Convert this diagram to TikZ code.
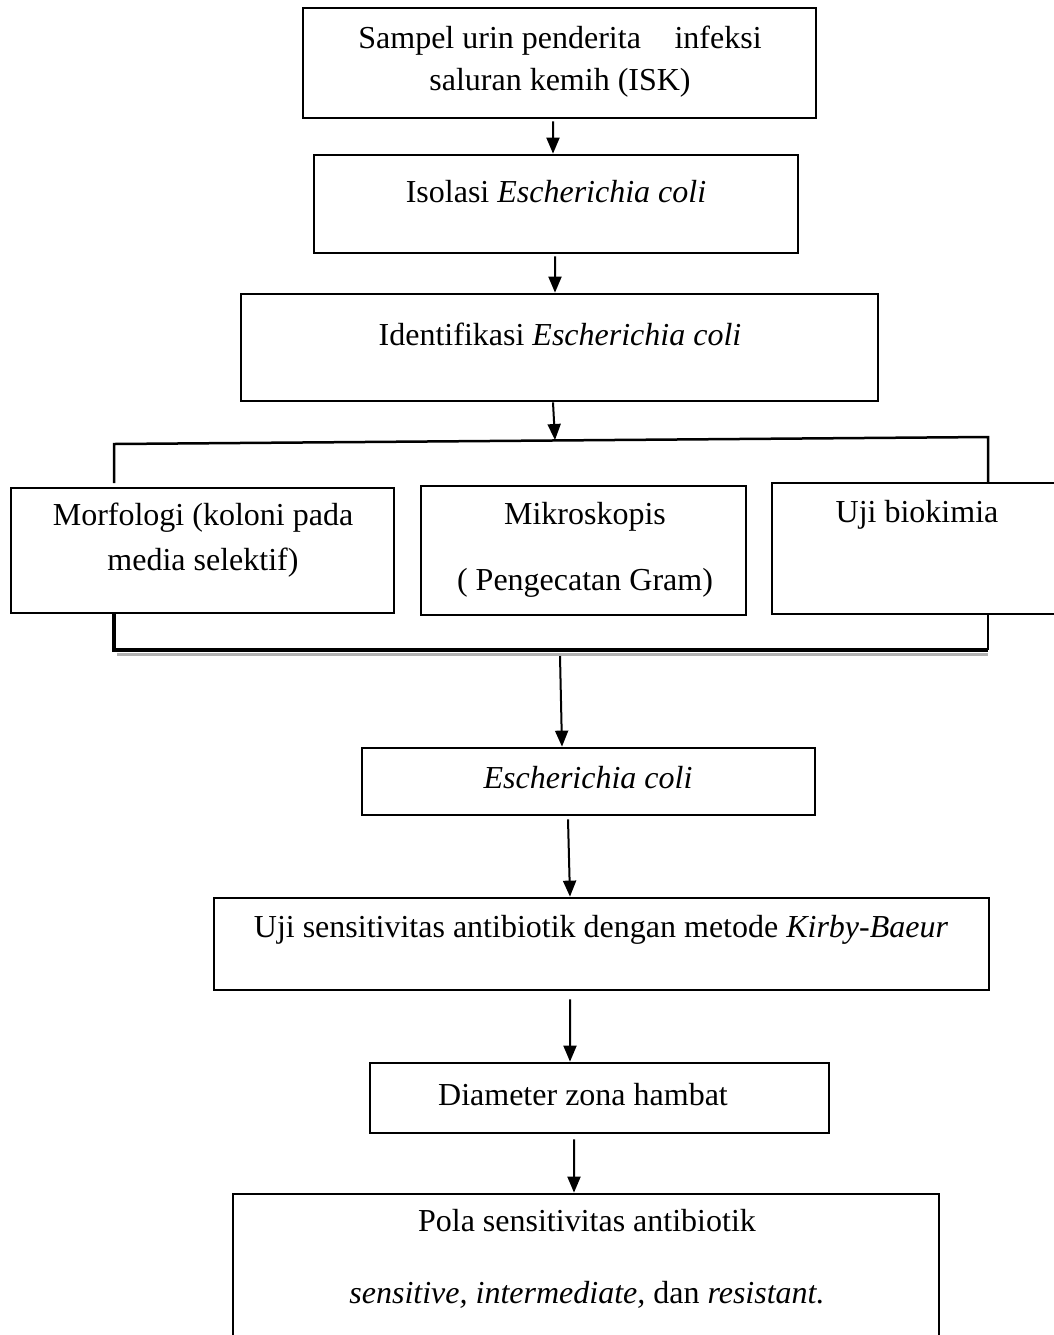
\documentclass[tikz,border=0pt]{standalone}
\usepackage{fontspec}
\setmainfont{Liberation Serif}
\usetikzlibrary{arrows.meta}
\begin{document}
\begin{tikzpicture}[x=0.4pt,y=-0.4pt]
    \tikzset{kotak/.style={draw, line width=1.1pt, inner sep=0pt}}
    \tikzset{teks/.style={align=center, inner sep=0pt, font=\fontsize{12.8pt}{16.8pt}\selectfont}}
    \tikzset{panah/.style={line width=0.8pt, -{Triangle[length=6.4pt,width=5.2pt]}}}
    \tikzset{garis/.style={line width=1pt}}
    \useasboundingbox (0,0) rectangle (1054,1335);
    \clip (0,0) rectangle (1054,1335);
    % kotak
    \node[kotak, minimum width=205.2pt, minimum height=44pt] (sampel) at (559.5,63) {};
    \node[kotak, minimum width=193.6pt, minimum height=39.2pt] (isolasi) at (556,204) {};
    \node[kotak, minimum width=254.8pt, minimum height=42.8pt] (identifikasi) at (559.5,347.5) {};
    \node[kotak, minimum width=153.2pt, minimum height=50pt] (morfologi) at (202.5,550.5) {};
    \node[kotak, minimum width=130pt, minimum height=51.6pt] (mikroskopis) at (583.5,550.5) {};
    \node[kotak, minimum width=116.8pt, minimum height=52.4pt] (biokimia) at (918,548.5) {};
    \node[kotak, minimum width=181.2pt, minimum height=26.8pt] (ecoli) at (588.5,781.5) {};
    \node[kotak, minimum width=310pt, minimum height=36.8pt] (ujisens) at (601.5,944) {};
    \node[kotak, minimum width=183.6pt, minimum height=28pt] (diameter) at (599.5,1098) {};
    \node[kotak, minimum width=282.4pt, minimum height=60.4pt] (pola) at (586,1269.5) {};
    % teks
    \node[teks] (sampel-t) at (560,62) {Sampel urin penderita\hspace{0.8em} infeksi\\saluran kemih (ISK)};
    \node[teks] (isolasi-t) at (556,192) {Isolasi \textit{Escherichia coli}};
    \node[teks] (identifikasi-t) at (560,334) {Identifikasi \textit{Escherichia coli}};
    \node[teks] (morfologi-t) at (203,540) {Morfologi (koloni pada\\[1.2pt]media selektif)};
    \node[teks] (mikroskopis-t) at (585,550) {Mikroskopis\\[9.6pt]( Pengecatan Gram)};
    \node[teks] (biokimia-t) at (917,515) {Uji biokimia};
    \node[teks] (ecoli-t) at (588,778) {\textit{Escherichia coli}};
    \node[teks] (ujisens-t) at (601,930) {Uji sensitivitas antibiotik dengan metode \textit{Kirby-Baeur}};
    \node[teks] (diameter-t) at (583,1095) {Diameter zona hambat};
    \node[teks] (pola-t) at (587,1259) {Pola sensitivitas antibiotik\\[12pt]\textit{sensitive,} \textit{intermediate,} dan \textit{resistant.}};
    % garis cabang
    \coordinate (kiri-atas) at (114,444);
    \coordinate (kanan-atas) at (988,437);
    \coordinate (kiri-ujung) at (114,483);
    \coordinate (kanan-ujung) at (988,482);
    \coordinate (cabang) at (555,440);
    \coordinate (kiri-bawah) at (114,613);
    \coordinate (kanan-bawah) at (988,614);
    \coordinate (kiri-dasar) at (114,650);
    \coordinate (kanan-dasar) at (988,650);
    \coordinate (gabung) at (560,656);
    \draw[garis] (kiri-ujung) -- (kiri-atas) -- (kanan-atas) -- (kanan-ujung);
    \draw[gray!60, line width=1.2pt] ([xshift=1.2pt,yshift=-1.6pt]kiri-dasar) -- ([yshift=-1.6pt]kanan-dasar);
    \draw[line width=1.9pt] (kiri-bawah) -- (kiri-dasar) -- (kanan-dasar);
    \draw[garis] (kanan-bawah) -- (kanan-dasar);
    % panah
    \draw[panah] ([xshift=-2.6pt,yshift=-0.8pt]sampel.south) -- ([xshift=-1.2pt]isolasi.north);
    \draw[panah] ([xshift=-0.4pt,yshift=-0.8pt]isolasi.south) -- ([xshift=-1.8pt]identifikasi.north);
    \draw[panah] ([xshift=-2.6pt]identifikasi.south) -- (cabang);
    \draw[panah] (gabung) -- ([xshift=-10.6pt]ecoli.north);
    \draw[panah] ([xshift=-8.2pt,yshift=-1.2pt]ecoli.south) -- ([xshift=-12.6pt]ujisens.north);
    \draw[panah] ([xshift=-12.6pt,yshift=-3.2pt]ujisens.south) -- ([xshift=-11.8pt]diameter.north);
    \draw[panah] ([xshift=-10.2pt,yshift=-2pt]diameter.south) -- ([xshift=-4.8pt]pola.north);
\end{tikzpicture}
\end{document}
